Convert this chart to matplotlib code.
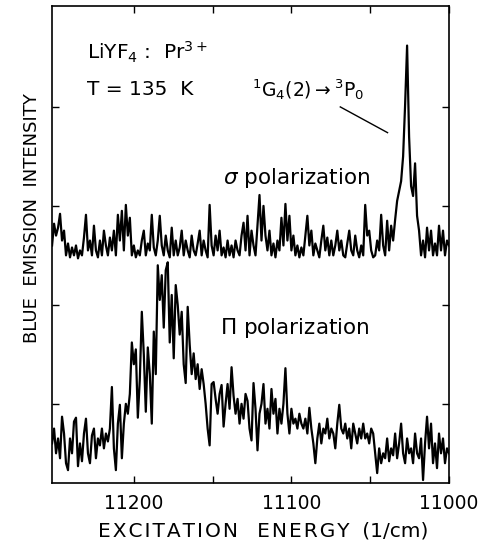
import numpy as np
import matplotlib
matplotlib.use("Agg")
import matplotlib.pyplot as plt

# excitation scan grid (1/cm), 200 steps from high to low energy
energy = np.linspace(11252, 11000, 200)

# sigma polarization trace (offset upward)
sigma = [
    2.40, 2.62, 2.50, 2.58, 2.72, 2.45, 2.55, 2.30, 2.42, 2.28,
    2.38, 2.30, 2.40, 2.27, 2.35, 2.30, 2.48, 2.71, 2.35, 2.45,
    2.30, 2.60, 2.35, 2.28, 2.45, 2.30, 2.55, 2.40, 2.30, 2.48,
    2.35, 2.55, 2.30, 2.71, 2.45, 2.75, 2.35, 2.81, 2.50, 2.68,
    2.30, 2.40, 2.28, 2.35, 2.30, 2.45, 2.55, 2.30, 2.42, 2.35,
    2.71, 2.38, 2.30, 2.45, 2.70, 2.40, 2.30, 2.50, 2.35, 2.28,
    2.58, 2.30, 2.45, 2.30, 2.38, 2.55, 2.30, 2.45, 2.35, 2.28,
    2.50, 2.35, 2.30, 2.42, 2.55, 2.30, 2.45, 2.35, 2.28, 2.81,
    2.40, 2.30, 2.50, 2.35, 2.55, 2.30, 2.38, 2.28, 2.45, 2.30,
    2.40, 2.28, 2.45, 2.35, 2.30, 2.50, 2.63, 2.35, 2.70, 2.30,
    2.55, 2.40, 2.30, 2.60, 2.91, 2.45, 2.80, 2.50, 2.35, 2.55,
    2.30, 2.42, 2.28, 2.45, 2.35, 2.68, 2.40, 2.82, 2.45, 2.70,
    2.35, 2.50, 2.30, 2.40, 2.28, 2.38, 2.30, 2.50, 2.70, 2.40,
    2.55, 2.30, 2.42, 2.35, 2.28, 2.45, 2.60, 2.35, 2.48, 2.30,
    2.45, 2.30, 2.40, 2.55, 2.35, 2.45, 2.30, 2.28, 2.42, 2.55,
    2.35, 2.30, 2.50, 2.35, 2.28, 2.40, 2.30, 2.81, 2.50, 2.55,
    2.35, 2.28, 2.30, 2.45, 2.35, 2.71, 2.40, 2.30, 2.65, 2.35,
    2.60, 2.45, 2.66, 2.85, 2.95, 3.05, 3.30, 3.82, 4.42, 3.50,
    3.00, 2.90, 3.23, 2.70, 2.55, 2.30, 2.45, 2.28, 2.58, 2.35,
    2.55, 2.30, 2.42, 2.30, 2.60, 2.35, 2.55, 2.30, 2.45, 2.40,
]

# pi polarization trace
pi = [
    0.40, 0.55, 0.30, 0.45, 0.25, 0.67, 0.50, 0.20, 0.13, 0.45,
    0.30, 0.62, 0.66, 0.17, 0.40, 0.22, 0.50, 0.65, 0.30, 0.20,
    0.48, 0.55, 0.25, 0.45, 0.38, 0.55, 0.35, 0.50, 0.42, 0.55,
    0.97, 0.35, 0.13, 0.60, 0.79, 0.25, 0.60, 0.80, 0.70, 0.90,
    1.42, 1.20, 1.35, 0.66, 1.05, 1.73, 1.30, 0.72, 1.37, 1.10,
    0.60, 1.53, 1.10, 2.20, 1.85, 2.10, 1.57, 2.15, 2.23, 1.42,
    1.90, 1.26, 2.00, 1.80, 1.50, 1.73, 1.20, 1.01, 1.78, 1.40,
    1.10, 1.31, 1.05, 1.20, 0.95, 1.15, 1.00, 0.80, 0.55, 0.38,
    1.00, 1.02, 0.85, 0.70, 0.90, 0.99, 0.57, 0.80, 1.00, 0.75,
    1.17, 0.88, 0.70, 0.85, 0.60, 0.80, 0.65, 0.90, 0.83, 0.55,
    0.43, 1.01, 0.75, 0.33, 0.70, 0.80, 1.00, 0.60, 0.75, 0.55,
    0.95, 0.70, 0.85, 0.50, 0.75, 0.60, 0.80, 1.16, 0.70, 0.50,
    0.75, 0.60, 0.65, 0.55, 0.70, 0.60, 0.55, 0.65, 0.50, 0.76,
    0.55, 0.40, 0.20, 0.45, 0.60, 0.40, 0.55, 0.50, 0.65, 0.45,
    0.55, 0.50, 0.35, 0.60, 0.79, 0.55, 0.50, 0.60, 0.45, 0.55,
    0.35, 0.60, 0.50, 0.40, 0.55, 0.45, 0.60, 0.45, 0.50, 0.40,
    0.55, 0.50, 0.30, 0.10, 0.35, 0.20, 0.30, 0.25, 0.45, 0.22,
    0.35, 0.28, 0.50, 0.25, 0.40, 0.60, 0.30, 0.20, 0.45, 0.30,
    0.35, 0.20, 0.50, 0.30, 0.25, 0.45, 0.03, 0.40, 0.67, 0.35,
    0.60, 0.20, 0.40, 0.15, 0.50, 0.30, 0.45, 0.20, 0.35, 0.30,
]

xticks = [11200, 11150, 11100, 11050, 11000]
xticklabels = ["11200", "", "11100", "", "11000"]


def spaced(s):
    # widen letter spacing with hair spaces
    return "\u200a".join(s)


fig = plt.figure(figsize=(4.82, 5.43), dpi=100)
ax = fig.add_axes([0.108, 0.1105, 0.8235, 0.8785])

ax.plot(energy, sigma, color="black", lw=1.6)
ax.plot(energy, pi, color="black", lw=1.6)

ax.set_xlim(11252, 11000)
ax.set_ylim(0, 4.82)
ax.set_xticks(xticks)
ax.set_xticklabels(xticklabels, fontsize=13.5)
ax.set_yticks([0.8, 1.8, 2.8, 3.8])
ax.set_yticklabels([])
ax.tick_params(direction="in", length=5, width=1, top=True, right=True, pad=8)
for s in ax.spines.values():
    s.set_linewidth(1.2)

fig.text(0.546, 0.005, spaced("EXCITATION") + "   " + spaced("ENERGY") + "  (1/cm)",
         ha="center", va="bottom", fontsize=14.5)
fig.text(0.066, 0.598, "BLUE  EMISSION  INTENSITY",
         rotation=90, ha="center", va="center", fontsize=13)

# sample and temperature
ax.text(11230, 4.35, r"LiYF$_4$ :  Pr$^{3+}$", fontsize=14.5, va="center")
ax.text(11230, 3.98, "T = 135  K", fontsize=14.5, va="center")

# line assignment with pointer to the sharp peak
ax.text(11125, 3.98, r"$^1$G$_4$(2)$\rightarrow$$^3$P$_0$", fontsize=13.5, va="center")
ax.plot([11069, 11039], [3.80, 3.54], color="black", lw=1)

ax.text(11097, 3.08, r"$\sigma$ polarization", fontsize=15.5, ha="center", va="center")
ax.text(11098, 1.57, r"$\Pi$ polarization", fontsize=15.5, ha="center", va="center")

fig.savefig("out.png", dpi=100)
